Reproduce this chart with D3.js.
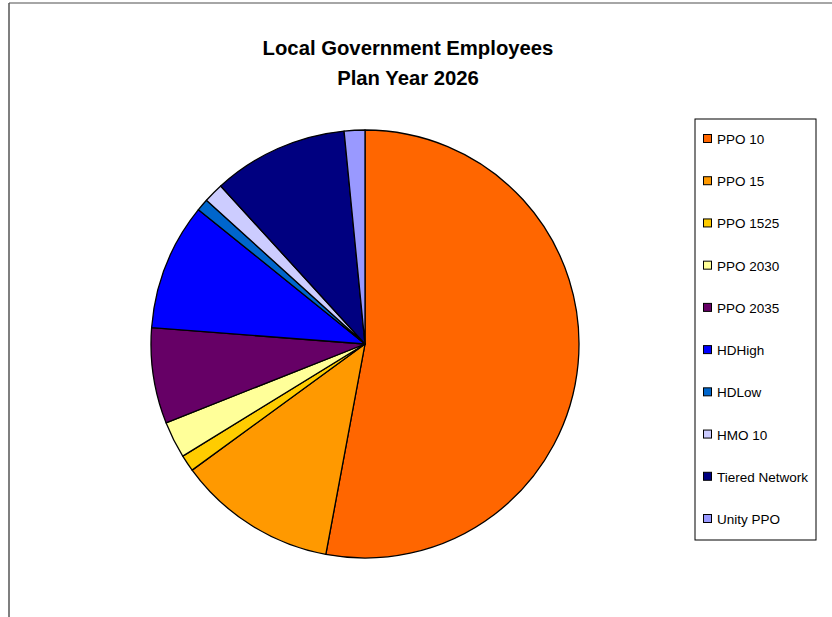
<!DOCTYPE html>
<html>
<head>
<meta charset="utf-8">
<script src="https://cdn.jsdelivr.net/npm/d3@7"></script>
<style>
  body { margin: 0; background: #fff; }
  svg { display: block; font-family: "Liberation Sans", Arial, Helvetica, sans-serif; }
</style>
</head>
<body>
<svg id="chart" width="832" height="617"></svg>
<script>
// plan names and their share of enrolment (%)
const plans = ["PPO 10", "PPO 15", "PPO 1525", "PPO 2030", "PPO 2035",
               "HDHigh", "HDLow", "HMO 10", "Tiered Network", "Unity PPO"];
const shares = [52.93, 12.04, 1.25, 2.78, 7.22, 9.58, 0.92, 1.5, 10.22, 1.56];
const sliceColors = ["#ff6600", "#ff9900", "#ffcc00", "#ffff99", "#660066",
                     "#0000ff", "#0066cc", "#ccccff", "#000080", "#9999ff"];
const titleLines = ["Local Government Employees", "Plan Year 2026"];

const svg = d3.select("#chart");

// outer frame of the chart area (runs off the page on right/bottom)
svg.append("line").attr("x1", 9).attr("y1", 3).attr("x2", 832).attr("y2", 3)
    .attr("stroke", "#888").attr("stroke-width", 1.5);
svg.append("line").attr("x1", 9).attr("y1", 3).attr("x2", 9).attr("y2", 617)
    .attr("stroke", "#555").attr("stroke-width", 1.5);

// title
svg.append("text")
    .attr("x", 408)
    .attr("y", 55)
    .attr("text-anchor", "middle")
    .style("font-size", "20.3px")
    .style("font-weight", "bold")
    .selectAll("tspan")
    .data(titleLines)
    .enter()
    .append("tspan")
    .attr("x", 408)
    .attr("dy", (d, i) => i === 0 ? 0 : 30)
    .text(d => d);

// pie
const color = d3.scaleOrdinal().domain(plans).range(sliceColors);
const pie = d3.pie().sort(null).value(d => d.value);
const arc = d3.arc().innerRadius(0).outerRadius(214);
const data = plans.map((p, i) => ({ name: p, value: shares[i] }));

const g = svg.append("g").attr("transform", "translate(365,344)");
g.selectAll("path")
    .data(pie(data))
    .enter()
    .append("path")
    .attr("d", arc)
    .attr("fill", d => color(d.data.name))
    .attr("stroke", "#000")
    .attr("stroke-width", 1.3)
    .attr("stroke-linejoin", "round");

// legend
const legend = svg.append("g").attr("transform", "translate(695,119)");
legend.append("rect")
    .attr("width", 121).attr("height", 421)
    .attr("fill", "#fff").attr("stroke", "#000").attr("stroke-width", 1);

const yItem = d3.scalePoint().domain(plans).range([20, 400]);
const item = legend.selectAll(".legend-item")
    .data(plans)
    .enter()
    .append("g")
    .attr("class", "legend-item")
    .attr("transform", d => "translate(0," + yItem(d) + ")");
item.append("rect")
    .attr("x", 8.5).attr("y", -4.5)
    .attr("width", 8).attr("height", 8)
    .attr("fill", d => color(d))
    .attr("stroke", "#000").attr("stroke-width", 1);
item.append("text")
    .attr("x", 22).attr("y", 5)
    .style("font-size", "13.5px")
    .text(d => d);
</script>
</body>
</html>
